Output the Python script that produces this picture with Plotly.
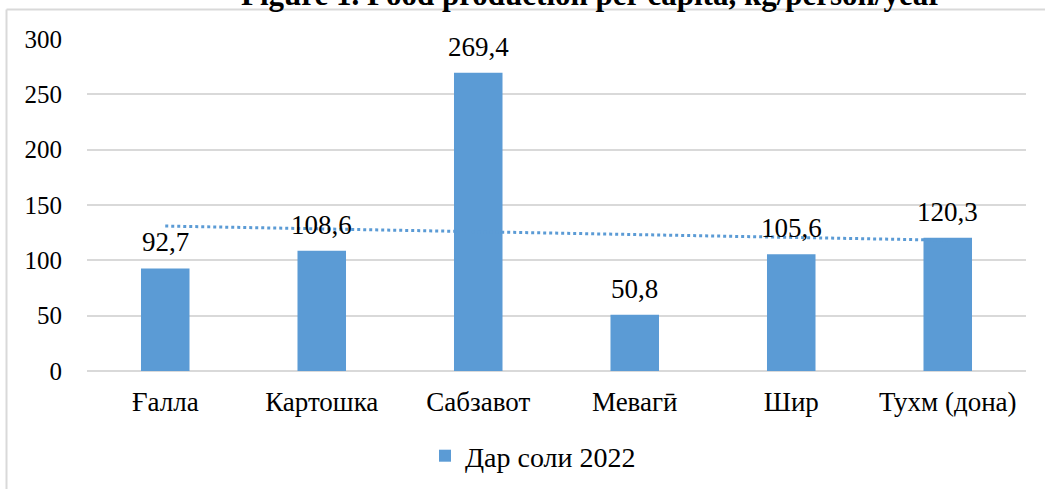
import numpy as np
import plotly.graph_objects as go

categories = ["Ғалла", "Картошка", "Сабзавот", "Мевагӣ", "Шир", "Тухм (дона)"]
values = [92.7, 108.6, 269.4, 50.8, 105.6, 120.3]
value_labels = ["92,7", "108,6", "269,4", "50,8", "105,6", "120,3"]
series_name = "Дар соли 2022"
title_text = "Figure 1. Food production per capita, kg/person/year"

W, H = 1045, 489
ML, MR, MT, MB = 87, 19, 39, 118

idx = np.arange(1, len(values) + 1)
slope, intercept = np.polyfit(idx, values, 1)
trend = slope * idx + intercept

FONT = "Liberation Serif"
BLUE = "#5B9BD5"

fig = go.Figure()
fig.add_trace(go.Bar(
    x=categories, y=values, name=series_name,
    marker=dict(color=BLUE, line=dict(width=0)),
))
fig.add_trace(go.Scatter(
    x=categories, y=trend, mode="lines", showlegend=False,
    line=dict(color=BLUE, width=3, dash="dot"), hoverinfo="skip",
))

for c, v, t in zip(categories, values, value_labels):
    fig.add_annotation(x=c, y=v, text=t, showarrow=False, yanchor="bottom",
                       yshift=9, font=dict(family=FONT, size=27, color="#000000"))

pw = W - ML - MR
ph = H - MT - MB
def px_x(p):
    return (p - ML) / pw
def px_y(p):
    return (H - MB - p) / ph

fig.add_shape(type="line", xref="paper", yref="paper",
              x0=px_x(6.5), x1=px_x(W + 10), y0=px_y(9.5), y1=px_y(9.5),
              line=dict(color="#D9D9D9", width=2))
fig.add_shape(type="line", xref="paper", yref="paper",
              x0=px_x(6.5), x1=px_x(6.5), y0=px_y(9.5), y1=px_y(H + 10),
              line=dict(color="#D9D9D9", width=2))

fig.add_annotation(xref="paper", yref="paper", x=px_x(591), y=px_y(-6),
                   xanchor="center", yanchor="middle", showarrow=False,
                   text="<b>" + title_text + "</b>",
                   font=dict(family=FONT, size=31, color="#000000"))

fig.update_layout(
    width=W, height=H,
    margin=dict(l=ML, r=MR, t=MT, b=MB, autoexpand=False),
    paper_bgcolor="white", plot_bgcolor="white",
    font=dict(family=FONT, size=24, color="#000000"),
    bargap=0.69,
    showlegend=True,
    legend=dict(orientation="h", x=px_x(533), xanchor="center", y=px_y(431), yanchor="top",
                font=dict(family=FONT, size=28, color="#000000")),
    xaxis=dict(showgrid=False, showline=False, ticks="", ticklabelstandoff=12,
               automargin=False, tickfont=dict(family=FONT, size=27)),
    yaxis=dict(range=[0, 300], dtick=50, showgrid=True, gridcolor="#D9D9D9",
               gridwidth=1.5, zeroline=True, zerolinecolor="#D9D9D9", zerolinewidth=1.5,
               showline=False, ticks="", ticklabelstandoff=24, automargin=False,
               tickfont=dict(family=FONT, size=25)),
)

fig.write_html("out.html", config={"displayModeBar": False},
               post_script="document.body.style.margin='0';document.body.style.overflow='hidden';")
